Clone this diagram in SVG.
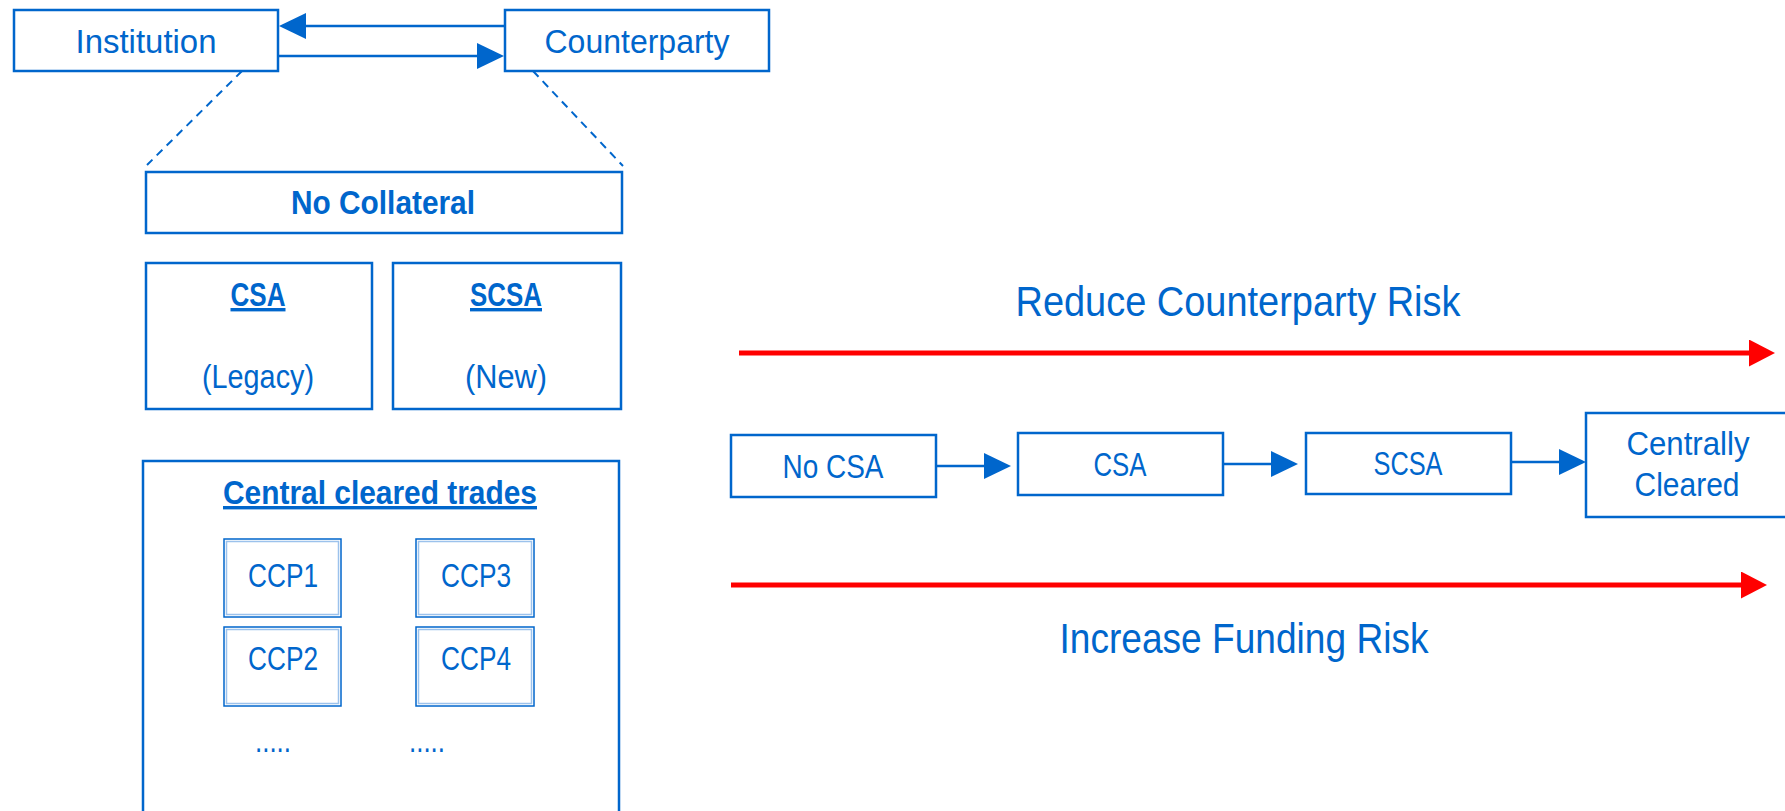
<svg xmlns="http://www.w3.org/2000/svg" width="1785" height="811" viewBox="0 0 1785 811">
<style>
.box{fill:#fff;stroke:#0066cc;stroke-width:2.5}
.t{font-family:"Liberation Sans",Arial,sans-serif;fill:#0066cc;font-size:34px;text-anchor:middle}
.b{font-weight:bold}
.u{text-decoration:underline}
.big{font-size:42px}
.ccpo{fill:#fff;stroke:#0066cc;stroke-width:1.5}
.ccpi{fill:none;stroke:#9cc2ec;stroke-width:1.5}
.blue{stroke:#0066cc;stroke-width:2.5;fill:none}
.red{stroke:#ff0000;stroke-width:5;fill:none}
.dash{stroke:#0066cc;stroke-width:2;stroke-dasharray:8 6;fill:none}
</style>
<defs>
<marker id="ab" markerUnits="userSpaceOnUse" markerWidth="27" markerHeight="26" refX="0" refY="13" orient="auto" viewBox="0 0 27 26">
<path d="M0,0 L27,13 L0,26 z" fill="#0066cc"/>
</marker>
<marker id="ar" markerUnits="userSpaceOnUse" markerWidth="26" markerHeight="27" refX="0" refY="13.5" orient="auto" viewBox="0 0 26 27">
<path d="M0,0 L26,13.5 L0,27 z" fill="#ff0000"/>
</marker>
</defs>

<g id="connectors">
<line class="blue" x1="505" y1="26" x2="306" y2="26" marker-end="url(#ab)"/>
<line class="blue" x1="278" y1="56" x2="477" y2="56" marker-end="url(#ab)"/>
<line class="dash" x1="242" y1="71" x2="147" y2="165"/>
<line class="dash" x1="533" y1="71" x2="623" y2="166"/>
<line class="blue" x1="936" y1="466" x2="984" y2="466" marker-end="url(#ab)"/>
<line class="blue" x1="1223" y1="464" x2="1271" y2="464" marker-end="url(#ab)"/>
<line class="blue" x1="1511" y1="462" x2="1559" y2="462" marker-end="url(#ab)"/>
<line class="red" x1="739" y1="353" x2="1749" y2="353" marker-end="url(#ar)"/>
<line class="red" x1="731" y1="585" x2="1741" y2="585" marker-end="url(#ar)"/>
</g>

<g id="institution">
<rect class="box" x="14" y="10" width="264" height="61"/>
<text class="t" x="146" y="53" textLength="141" lengthAdjust="spacingAndGlyphs">Institution</text>
</g>
<g id="counterparty">
<rect class="box" x="505" y="10" width="264" height="61"/>
<text class="t" x="637" y="53" textLength="185" lengthAdjust="spacingAndGlyphs">Counterparty</text>
</g>

<g id="no-collateral">
<rect class="box" x="146" y="172" width="476" height="61"/>
<text class="t b" x="383" y="214" textLength="184" lengthAdjust="spacingAndGlyphs">No Collateral</text>
</g>
<g id="csa-legacy">
<rect class="box" x="146" y="263" width="226" height="146"/>
<text class="t b u" x="258" y="306" textLength="55" lengthAdjust="spacingAndGlyphs">CSA</text>
<text class="t" x="258" y="388" textLength="112" lengthAdjust="spacingAndGlyphs">(Legacy)</text>
</g>
<g id="scsa-new">
<rect class="box" x="393" y="263" width="228" height="146"/>
<text class="t b u" x="506" y="306" textLength="72" lengthAdjust="spacingAndGlyphs">SCSA</text>
<text class="t" x="506" y="388" textLength="82" lengthAdjust="spacingAndGlyphs">(New)</text>
</g>

<g id="central-cleared">
<rect class="box" x="143" y="461" width="476" height="400"/>
<text class="t b u" x="380" y="504" textLength="314" lengthAdjust="spacingAndGlyphs">Central cleared trades</text>
<text class="t" x="273" y="752" textLength="36" lengthAdjust="spacingAndGlyphs">.....</text>
<text class="t" x="427" y="752" textLength="36" lengthAdjust="spacingAndGlyphs">.....</text>
</g>
<g id="ccp1">
<rect class="ccpo" x="224" y="539" width="117" height="78"/>
<rect class="ccpi" x="226.5" y="541.5" width="112" height="73"/>
<text class="t" x="283" y="587" textLength="70" lengthAdjust="spacingAndGlyphs">CCP1</text>
</g>
<g id="ccp2">
<rect class="ccpo" x="224" y="627" width="117" height="79"/>
<rect class="ccpi" x="226.5" y="629.5" width="112" height="74"/>
<text class="t" x="283" y="670" textLength="70" lengthAdjust="spacingAndGlyphs">CCP2</text>
</g>
<g id="ccp3">
<rect class="ccpo" x="416" y="539" width="118" height="78"/>
<rect class="ccpi" x="418.5" y="541.5" width="113" height="73"/>
<text class="t" x="476" y="587" textLength="70" lengthAdjust="spacingAndGlyphs">CCP3</text>
</g>
<g id="ccp4">
<rect class="ccpo" x="416" y="627" width="118" height="79"/>
<rect class="ccpi" x="418.5" y="629.5" width="113" height="74"/>
<text class="t" x="476" y="670" textLength="70" lengthAdjust="spacingAndGlyphs">CCP4</text>
</g>

<g id="reduce-label">
<text class="t big" x="1238" y="316" textLength="445" lengthAdjust="spacingAndGlyphs">Reduce Counterparty Risk</text>
</g>
<g id="increase-label">
<text class="t big" x="1244" y="653" textLength="369" lengthAdjust="spacingAndGlyphs">Increase Funding Risk</text>
</g>

<g id="no-csa">
<rect class="box" x="731" y="435" width="205" height="62"/>
<text class="t" x="833" y="478" textLength="101" lengthAdjust="spacingAndGlyphs">No CSA</text>
</g>
<g id="csa">
<rect class="box" x="1018" y="433" width="205" height="62"/>
<text class="t" x="1120" y="476" textLength="53" lengthAdjust="spacingAndGlyphs">CSA</text>
</g>
<g id="scsa">
<rect class="box" x="1306" y="433" width="205" height="61"/>
<text class="t" x="1408" y="475" textLength="69" lengthAdjust="spacingAndGlyphs">SCSA</text>
</g>
<g id="centrally-cleared">
<rect class="box" x="1586" y="413" width="220" height="104"/>
<text class="t" x="1688" y="455" textLength="123" lengthAdjust="spacingAndGlyphs">Centrally</text>
<text class="t" x="1687" y="496" textLength="105" lengthAdjust="spacingAndGlyphs">Cleared</text>
</g>
</svg>
